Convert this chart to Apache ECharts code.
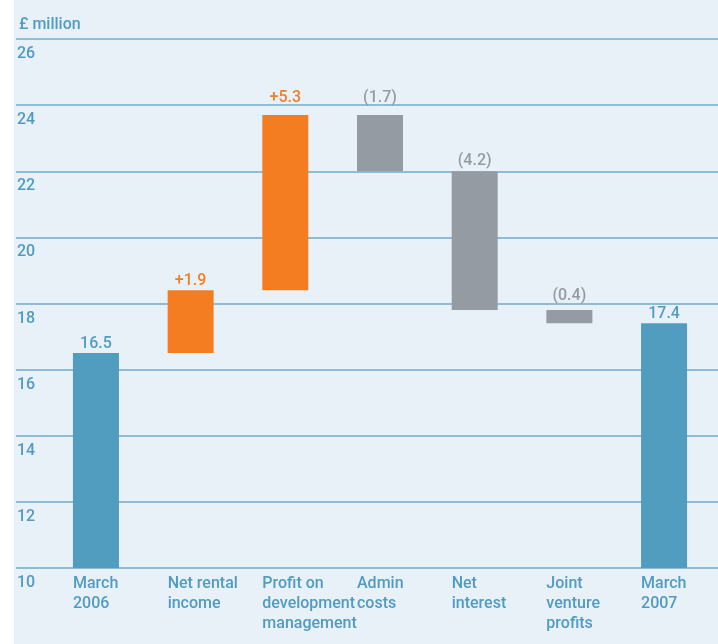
<!DOCTYPE html>
<html>
<head>
<meta charset="utf-8">
<script src="https://cdn.jsdelivr.net/npm/echarts@6/dist/echarts.min.js"></script>
<style>
  html, body { margin: 0; padding: 0; background: #fff; }
  #chart { position: absolute; left: 14px; top: 0; width: 704px; height: 644px; background: #e9f1f8; }
</style>
</head>
<body>
<div id="chart"></div>
<script>
// data
const categories = ['March\n2006', 'Net rental\nincome', 'Profit on\ndevelopment\nmanagement', 'Admin\ncosts', 'Net\ninterest', 'Joint\nventure\nprofits', 'March\n2007']
const openingValue = 16.5
const changes = [1.9, 5.3, -1.7, -4.2, -0.4]
const closingValue = 17.4
const yTicks = [10, 12, 14, 16, 18, 20, 22, 24, 26]

const BLUE = '#519dc0'
const ORANGE = '#f47d22'
const GREY = '#959ba2'
const TEXT = '#509bc2'
const FONT = 'Roboto, "DejaVu Sans", sans-serif'
// extra lift of value labels where they dodge a gridline
const labelLift = [0, 0, 8, 8, 1, 5, 0]

// build waterfall base + visible heights
const base = []
const heights = []
const kinds = []
base.push(0); heights.push(openingValue); kinds.push('total')
let running = openingValue
changes.forEach((c) => {
  if (c >= 0) {
    base.push(running); heights.push(c); kinds.push('up')
  } else {
    base.push(running + c); heights.push(-c); kinds.push('down')
  }
  running = +(running + c).toFixed(1)
})
base.push(0); heights.push(closingValue); kinds.push('total')

const colorOf = (k) => (k === 'total' ? BLUE : k === 'up' ? ORANGE : GREY)
const labelOf = (i) => {
  if (kinds[i] === 'total') return heights[i].toFixed(1)
  if (kinds[i] === 'up') return '+' + heights[i].toFixed(1)
  return '(' + heights[i].toFixed(1) + ')'
}

const chart = echarts.init(document.getElementById('chart'))
const gridTop = 39
const gridBottom = 76
const barLeft = 34.6
const barRight = 6.6
const barWidth = 46

chart.setOption({
  animation: false,
  textStyle: { fontFamily: FONT },
  title: {
    text: '£ million',
    left: 0,
    top: 12,
    textStyle: { color: TEXT, fontSize: 16, fontWeight: 500, fontFamily: FONT }
  },
  grid: [
    { left: 0, right: 0, top: gridTop, bottom: gridBottom },
    { left: barLeft, right: barRight, top: gridTop, bottom: gridBottom },
    { left: barLeft - barWidth / 2, right: barRight + barWidth / 2, top: gridTop, bottom: gridBottom }
  ],
  xAxis: [
    { gridIndex: 0, type: 'value', show: false },
    { gridIndex: 1, type: 'category', data: categories, show: false },
    {
      gridIndex: 2,
      type: 'category',
      data: categories,
      axisLine: { show: false },
      axisTick: { show: false },
      axisLabel: {
        align: 'left',
        margin: 6,
        color: TEXT,
        fontSize: 16,
        fontWeight: 500,
        lineHeight: 20,
        fontFamily: FONT,
        interval: 0
      }
    }
  ],
  yAxis: [
    {
      gridIndex: 0,
      type: 'value',
      min: yTicks[0],
      max: yTicks[yTicks.length - 1],
      interval: 2,
      axisLine: { show: false },
      axisTick: { show: false },
      axisLabel: {
        inside: true,
        margin: 1,
        align: 'left',
        verticalAlign: 'top',
        padding: [7, 0, 0, 0],
        color: TEXT,
        fontSize: 16,
        fontWeight: 500,
        fontFamily: FONT
      },
      splitLine: { show: true, lineStyle: { color: '#6eaac8', width: 1.5 } }
    },
    { gridIndex: 1, type: 'value', min: yTicks[0], max: yTicks[yTicks.length - 1], interval: 2, show: false, splitLine: { show: false } },
    { gridIndex: 2, type: 'value', min: yTicks[0], max: yTicks[yTicks.length - 1], interval: 2, show: false, splitLine: { show: false } }
  ],
  series: [
    {
      type: 'bar',
      xAxisIndex: 1,
      yAxisIndex: 1,
      stack: 'wf',
      barWidth: barWidth,
      itemStyle: { color: 'transparent' },
      silent: true,
      data: base
    },
    {
      type: 'bar',
      xAxisIndex: 1,
      yAxisIndex: 1,
      stack: 'wf',
      barWidth: barWidth,
      data: heights.map((v, i) => ({
        value: v,
        itemStyle: { color: colorOf(kinds[i]) },
        label: { color: colorOf(kinds[i]), distance: 1 + labelLift[i] }
      })),
      label: {
        show: true,
        position: 'top',
        fontSize: 16,
        fontWeight: 500,
        fontFamily: FONT,
        formatter: (p) => labelOf(p.dataIndex)
      }
    }
  ]
})
</script>
</body>
</html>
